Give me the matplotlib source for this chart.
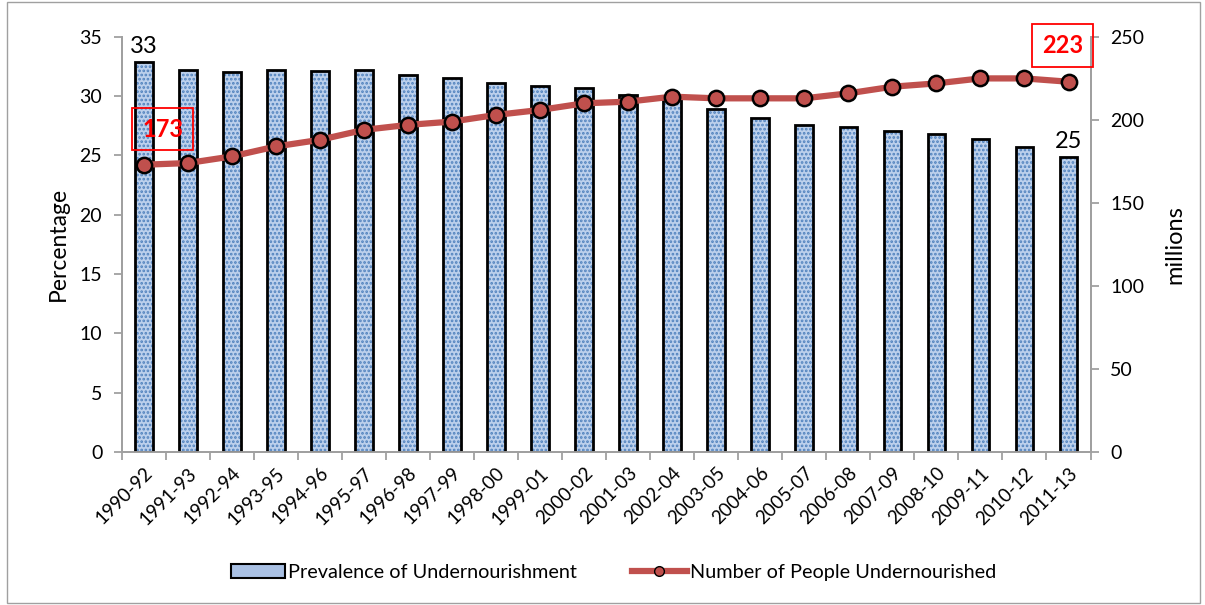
import numpy as np
import matplotlib.pyplot as plt
from matplotlib.patches import Patch, Rectangle
from matplotlib.lines import Line2D

plt.rcParams['font.family'] = ['Lato', 'DejaVu Sans']
plt.rcParams['hatch.linewidth'] = 1.3

periods = ["1990-92", "1991-93", "1992-94", "1993-95", "1994-96", "1995-97",
           "1996-98", "1997-99", "1998-00", "1999-01", "2000-02", "2001-03",
           "2002-04", "2003-05", "2004-06", "2005-07", "2006-08", "2007-09",
           "2008-10", "2009-11", "2010-12", "2011-13"]
prevalence = [32.9, 32.2, 32.0, 32.2, 32.1, 32.2, 31.8, 31.5, 31.1, 30.9, 30.7,
              30.1, 29.9, 28.9, 28.2, 27.6, 27.4, 27.1, 26.8, 26.4, 25.7, 24.9]
people = [173, 174, 178, 184, 188, 194, 197, 199, 203, 206, 210,
          211, 214, 213, 213, 213, 216, 220, 222, 225, 225, 223]

BAR_BLUE = '#4f81bd'
LINE_RED = '#c0504d'
GREY = '#a0a0a0'

fig = plt.figure(figsize=(12.05, 6.05), dpi=100)
ax = fig.add_axes([0.101, 0.253, 0.804, 0.686])
ax2 = ax.twinx()

x = np.arange(len(periods))
ax.bar(x, prevalence, width=0.4, color='#bcd0ec', hatch='....',
       edgecolor=BAR_BLUE, linewidth=0, zorder=2)
ax.bar(x, prevalence, width=0.4, fill=False, edgecolor='black',
       linewidth=2, zorder=3)

ax2.plot(x, people, color=LINE_RED, lw=4.5, marker='o', markersize=11,
         markerfacecolor=LINE_RED, markeredgecolor='black', markeredgewidth=1.8,
         zorder=4)

ax.set_xlim(-0.5, len(periods) - 0.5)
ax.set_ylim(0, 35)
ax2.set_ylim(0, 250)
ax.set_yticks(range(0, 36, 5))
ax2.set_yticks(range(0, 251, 50))

ax.set_xticks(x)
ax.set_xticklabels(periods, rotation=45, ha='right', rotation_mode='anchor',
                   fontsize=13.5)
ax.tick_params(axis='x', which='major', length=0, pad=9)
ax.set_xticks(np.arange(-0.5, len(periods), 1), minor=True)
ax.tick_params(axis='x', which='minor', length=6, color=GREY, width=1.3)
ax.tick_params(axis='y', labelsize=14, length=6, color=GREY, width=1.3, pad=8)
ax2.tick_params(axis='y', labelsize=14, length=6, color=GREY, width=1.3, pad=8)

for a in (ax, ax2):
    a.spines['top'].set_visible(False)
    for s in ('left', 'right', 'bottom'):
        a.spines[s].set_color(GREY)
        a.spines[s].set_linewidth(1.3)

ax.set_ylabel('Percentage', fontsize=16.5, labelpad=8)
ax2.set_ylabel('millions', fontsize=17, labelpad=15)

ax.text(x[0], prevalence[0] + 0.4, '33', ha='center', va='bottom', fontsize=17)
ax.text(x[-1], prevalence[-1] + 0.4, '25', ha='center', va='bottom', fontsize=17)

box = dict(boxstyle='square,pad=0.42', facecolor='none', edgecolor='red', lw=1.3)
ax2.text(x[0] + 0.43, 194.5, '173', ha='center', va='center', fontsize=17,
         fontweight='bold', color='red', bbox=box, zorder=5)
ax2.text(x[-1] - 0.14, 245, '223', ha='center', va='center', fontsize=17,
         fontweight='bold', color='red', bbox=box, zorder=5)

handles = [Patch(facecolor='#a9c0e3', edgecolor='black', linewidth=1.5),
           Line2D([0], [0], color=LINE_RED, lw=4.5, marker='o', markersize=7,
                  markerfacecolor=LINE_RED, markeredgecolor='black')]
fig.legend(handles, ['Prevalence of Undernourishment', 'Number of People Undernourished'],
           loc='center', bbox_to_anchor=(0.509, 0.054), ncol=2, frameon=False,
           fontsize=14.3, columnspacing=2.75, handlelength=2.75, handletextpad=0.15)

fig.add_artist(Rectangle((0.006, 0.004), 0.99, 0.992, transform=fig.transFigure,
                         fill=False, edgecolor=GREY, lw=1))

fig.savefig('out.png', dpi=100)
